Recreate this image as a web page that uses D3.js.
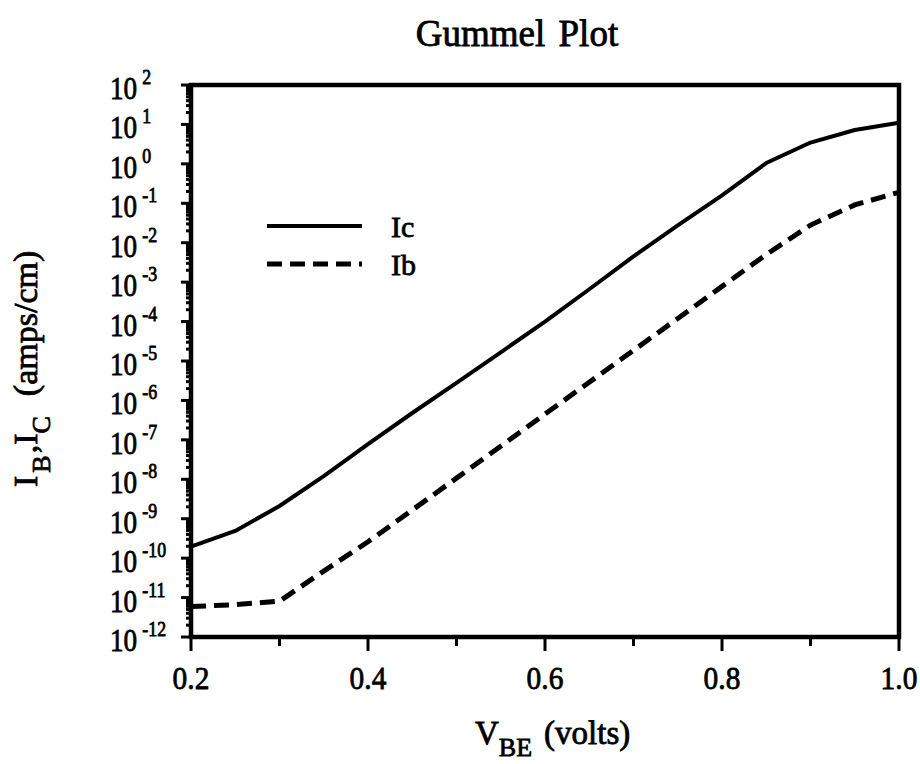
<!DOCTYPE html>
<html>
<head>
<meta charset="utf-8">
<script src="https://cdn.jsdelivr.net/npm/d3@7"></script>
<style>
  body { margin: 0; background: #fff; }
  svg text { font-family: "Liberation Serif", "DejaVu Serif", serif; fill: #000; stroke: #000; stroke-width: 0.8px; }
</style>
</head>
<body>
<svg id="chart" width="920" height="764"></svg>
<script>
// Base-emitter voltage sweep (volts)
const vbe = [0.20, 0.25, 0.30, 0.35, 0.40, 0.45, 0.50, 0.55, 0.60, 0.65, 0.70, 0.75, 0.80, 0.85, 0.90, 0.95, 1.00];
// Collector current Ic (amps/cm)
const ic = [1.95e-10, 4.9e-10, 2.1e-9, 1.2e-8, 7.8e-8, 4.8e-7, 2.8e-6, 1.66e-5, 1.0e-4, 6.6e-4, 4.5e-3, 2.75e-2, 0.158, 1.05, 3.47, 7.24, 11.0];
// Base current Ib (amps/cm)
const ib = [5.9e-12, 6.6e-12, 8.1e-12, 4.7e-11, 2.6e-10, 1.66e-9, 1.07e-8, 6.9e-8, 4.5e-7, 2.9e-6, 1.86e-5, 1.2e-4, 7.8e-4, 5.0e-3, 2.8e-2, 9.1e-2, 0.19];

const seriesNames = ["Ic", "Ib"];
const xTickValues = [0.2, 0.3, 0.4, 0.5, 0.6, 0.7, 0.8, 0.9, 1.0];
const xTickLabels = ["0.2", "0.4", "0.6", "0.8", "1.0"];
const yExponents = [2, 1, 0, -1, -2, -3, -4, -5, -6, -7, -8, -9, -10, -11, -12];

const svg = d3.select("#chart");
const margin = { left: 191, right: 21, top: 85, bottom: 127 };
const W = 920, H = 764;

const x = d3.scaleLinear().domain([0.2, 1.0]).range([margin.left, W - margin.right]);
const y = d3.scaleLog().domain([1e-12, 1e2]).range([H - margin.bottom, margin.top]);

// ---- curves ----
const line = d3.line().x(d => x(d[0])).y(d => y(d[1]));
const icPts = vbe.map((v, i) => [v, ic[i]]);
const ibPts = vbe.map((v, i) => [v, ib[i]]);

svg.append("path").attr("d", line(icPts))
  .attr("fill", "none").attr("stroke", "#000").attr("stroke-width", 4).attr("stroke-linejoin", "round");
svg.append("path").attr("d", line(ibPts))
  .attr("fill", "none").attr("stroke", "#000").attr("stroke-width", 5).attr("stroke-dasharray", "15,8");

// ---- y axis ticks (log decades with minor ticks) ----
const yMinor = [];
for (let e = -12; e < 2; e++) for (let m = 2; m <= 9; m++) yMinor.push(m * Math.pow(10, e));
const yMajor = yExponents.map(e => Math.pow(10, e));

const yAxisG = svg.append("g");
yAxisG.selectAll("line.minor").data(yMinor).join("line")
  .attr("x1", x(0.2) - 5).attr("x2", x(0.2))
  .attr("y1", d => y(d)).attr("y2", d => y(d))
  .attr("stroke", "#000").attr("stroke-width", 3);
yAxisG.selectAll("line.major").data(yMajor).join("line")
  .attr("x1", x(0.2) - 10).attr("x2", x(0.2))
  .attr("y1", d => y(d)).attr("y2", d => y(d))
  .attr("stroke", "#000").attr("stroke-width", 3);

// y tick labels: 10 with superscript exponent
const yLab = svg.append("g").selectAll("g").data(yExponents).join("g")
  .attr("transform", e => `translate(110,${y(Math.pow(10, e))}) scale(0.85,1)`);
yLab.append("text").attr("x", 0).attr("y", 14).attr("font-size", 32).text("10");
yLab.append("text").attr("x", 38).attr("y", -1).attr("font-size", 21).text(e => e);

// ---- x axis ticks ----
const xAxisG = svg.append("g");
xAxisG.selectAll("line").data(xTickValues).join("line")
  .attr("x1", d => x(d)).attr("x2", d => x(d))
  .attr("y1", y(1e-12)).attr("y2", (d, i) => y(1e-12) + (i % 2 === 0 ? 14 : 9))
  .attr("stroke", "#000").attr("stroke-width", 3);
xAxisG.selectAll("g").data(xTickLabels).join("g")
  .attr("transform", d => `translate(${x(+d)},689) scale(0.92,1)`)
  .append("text").attr("text-anchor", "middle").attr("font-size", 32).text(d => d);

// ---- frame ----
svg.append("rect")
  .attr("x", x(0.2)).attr("y", y(1e2))
  .attr("width", x(1.0) - x(0.2)).attr("height", y(1e-12) - y(1e2))
  .attr("fill", "none").attr("stroke", "#000").attr("stroke-width", 4.5);

// ---- title ----
svg.append("text").attr("x", 517).attr("y", 46).attr("text-anchor", "middle")
  .attr("font-size", 37).attr("stroke-width", 0.4).attr("word-spacing", 4).text("Gummel Plot");

// ---- x axis label ----
const xl = svg.append("text").attr("x", 475).attr("y", 744).attr("font-size", 33);
xl.append("tspan").text("V");
xl.append("tspan").attr("font-size", 26).attr("dy", 12).text("BE");
xl.append("tspan").attr("dy", -12).attr("dx", 12).text("(volts)");

// ---- y axis label ----
const yl = svg.append("text").attr("transform", "translate(37,487) rotate(-90)")
  .attr("font-size", 34);
yl.append("tspan").text("I");
yl.append("tspan").attr("font-size", 26).attr("dx", 3).attr("dy", 13).text("B");
yl.append("tspan").attr("dx", 2).attr("dy", -13).text(",I");
yl.append("tspan").attr("font-size", 26).attr("dy", 13).text("C");
yl.append("tspan").attr("dx", 20).attr("dy", -13).text("(amps/cm)");

// ---- legend ----
const legend = svg.append("g");
const legendY = [226, 264];
legend.selectAll("line").data(seriesNames).join("line")
  .attr("x1", 267).attr("x2", 362)
  .attr("y1", (d, i) => legendY[i]).attr("y2", (d, i) => legendY[i])
  .attr("stroke", "#000")
  .attr("stroke-width", (d, i) => i === 0 ? 4 : 5)
  .attr("stroke-dasharray", (d, i) => i === 0 ? null : "15,8");
legend.selectAll("text").data(seriesNames).join("text")
  .attr("x", 391).attr("y", (d, i) => legendY[i] + 11)
  .attr("font-size", 30).text(d => d);
</script>
</body>
</html>
